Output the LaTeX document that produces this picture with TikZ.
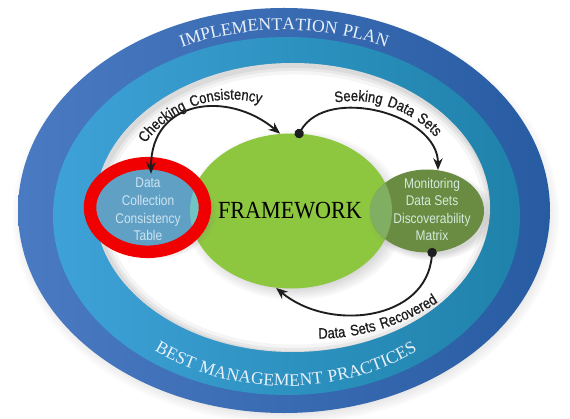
\documentclass[tikz,border=0pt]{standalone}
\usepackage{fontspec}
\usepackage{xcolor}
\usepackage{tikz}
\usetikzlibrary{arrows.meta}
\usetikzlibrary{shapes.geometric, decorations.text, shadows}
\setmainfont{Liberation Serif}
\newfontfamily\ringfont[LetterSpace=6]{Liberation Serif}
\newfontfamily\framefont[FakeStretch=0.9]{Liberation Serif}
\newfontfamily\boxfont[FakeStretch=0.85]{Liberation Sans}
\newfontfamily\arcfont[FakeStretch=0.85,FakeBold=0.8,LetterSpace=12]{Liberation Sans}
\definecolor{darkringL}{RGB}{74,122,194}
\definecolor{darkringR}{RGB}{40,92,162}
\definecolor{lightringL}{RGB}{62,162,216}
\definecolor{lightringR}{RGB}{30,130,170}
\definecolor{framegreen}{RGB}{141,198,63}
\definecolor{tableblue}{RGB}{96,160,196}
\definecolor{tableteal}{RGB}{112,196,196}
\definecolor{matrixolive}{RGB}{106,140,66}
\definecolor{matrixlight}{RGB}{128,174,98}
\definecolor{tabletext}{RGB}{205,228,242}
\definecolor{matrixtext}{RGB}{210,236,222}
\definecolor{ringtext}{RGB}{232,240,250}
\definecolor{markred}{RGB}{240,0,0}
\definecolor{arclabel}{RGB}{30,30,30}

\tikzset{
  bubble/.style={ellipse, inner sep=0pt,
    circular drop shadow={shadow xshift=3pt, shadow yshift=-3pt, opacity=.3}},
  bubbletext/.style={font=\boxfont\fontsize{12}{15}\selectfont, align=center},
  link/.style={line width=1.6pt, arclabel},
  ringlabel/.style={decorate, decoration={text along path, text align=center,
    text={|\ringfont\fontsize{15}{15}\selectfont\color{ringtext}|#1}}},
  arrowlabel/.style={decorate, decoration={text along path, text align=center,
    text={|\arcfont\fontsize{13}{13}\selectfont\color{arclabel}|#1}}}
}

\begin{document}
\begin{tikzpicture}[x=0.03cm, y=0.03cm]
        \useasboundingbox (0,0) rectangle (570,418);

        % Anneaux
        \shade[circular drop shadow={shadow scale=1.03, shadow yshift=-4pt, opacity=.5},
               left color=darkringL, right color=darkringR]
            (284,207.5) ellipse [x radius=266, y radius=202.5];
        \shade[left color=lightringL, right color=lightringR]
            (286.5,202) ellipse [x radius=233.5, y radius=179];
        \fill[white] (292.5,210.5) ellipse [x radius=197.5, y radius=144.5];

        % Ombre interieure du fond blanc
        \begin{scope}
            \clip (292.5,210.5) ellipse [x radius=197.5, y radius=144.5];
            \foreach \w/\o in {16/0.04, 10/0.05, 5/0.06}
                \draw[black, line width=\w pt, opacity=\o] (294.5,208.5) ellipse [x radius=197.5, y radius=144.5];
        \end{scope}

        % Textes des anneaux
        \path[ringlabel=IMPLEMENTATION PLAN]
            (284,207) ++(150:238 and 181) arc [start angle=150, end angle=30, x radius=238, y radius=181];
        \path[ringlabel=BEST MANAGEMENT PRACTICES]
            (286,204) ++(200:217 and 172) arc [start angle=200, end angle=340, x radius=217, y radius=172];

        % Ellipses
        \node[bubble, fill=framegreen, minimum width=6.06cm, minimum height=4.65cm] (frame) at (291,207) {};
        \node[bubble, fill=tableblue, minimum width=3.36cm, minimum height=2.52cm] (dcct) at (151,209) {};
        \node[bubble, fill=matrixolive, minimum width=3.42cm, minimum height=2.49cm] (dsdm) at (427,207) {};

        % Zones communes
        \begin{scope}
            \clip (291,207) ellipse [x radius=101, y radius=77.5];
            \fill[tableteal] (151,209) ellipse [x radius=56, y radius=42];
            \fill[matrixlight] (427,207) ellipse [x radius=57, y radius=41.5];
        \end{scope}

        \node[font=\framefont\fontsize{21}{21}\selectfont] (frametext) at (290,207) {FRAMEWORK};
        \node[bubbletext, text=tabletext] (dccttext) at (148,208.5) {Data\\Collection\\Consistency\\Table};
        \node[bubbletext, text=matrixtext] (dsdmtext) at (432,208.5) {Monitoring\\Data Sets\\Discoverability\\Matrix};

        % Cercle rouge
        \draw[markred, line width=0.375cm] (147.5,210.5) ellipse [x radius=57.5, y radius=44.3];

        % Fleches
        \draw[link, {Stealth[length=10pt, width=8pt]}-{Stealth[length=10pt, width=8pt]}, shorten <=-6pt]
            (dcct.north) to[out=90, in=140, looseness=1.3] (frame.98);
        \draw[link, {Circle[length=8pt]}-{Stealth[length=10pt, width=8pt]}, shorten <=-4pt]
            (frame.84) to[out=60, in=90] (dsdm.75);
        \draw[link, {Circle[length=8pt]}-{Stealth[length=10pt, width=8pt]}, shorten <=-4pt]
            (dsdm.-83) to[out=-95, in=-40, looseness=1.1] (frame.259);

        % Etiquettes des fleches
        \path[arrowlabel=Checking Consistency]
            (231.5,212) ++(175:106.5) arc [start angle=175, end angle=43, radius=106.5];
        \path[arrowlabel=Seeking Data Sets]
            (354,207) ++(111:110) arc [start angle=111, end angle=31, radius=110];
        \path[arrowlabel=Data Sets Recovered]
            (316.6,299.3) ++(260:220) arc [start angle=260, end angle=314, radius=220];
\end{tikzpicture}
\end{document}
